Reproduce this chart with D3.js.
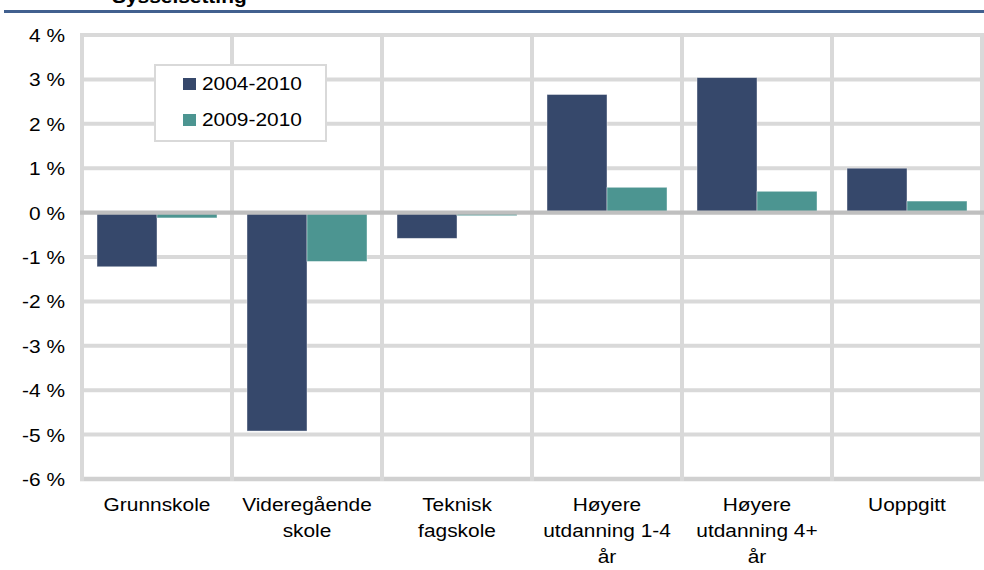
<!DOCTYPE html>
<html>
<head>
<meta charset="utf-8">
<script src="https://cdn.jsdelivr.net/npm/d3@7"></script>
<style>
  body { margin: 0; background: #fff; }
  svg { display: block; font-family: "Liberation Sans", Arial, sans-serif; }
</style>
</head>
<body>
<svg id="chart_svg" width="984" height="570"></svg>
<script>
// chart data
var categories = ["Grunnskole", "Videregående\nskole", "Teknisk\nfagskole", "Høyere\nutdanning 1-4\når", "Høyere\nutdanning 4+\når", "Uoppgitt"];
var series = ["2004-2010", "2009-2010"];
var values_2004_2010 = [-1.22, -4.92, -0.58, 2.66, 3.04, 1.0];
var values_2009_2010 = [-0.12, -1.1, -0.07, 0.57, 0.48, 0.26];
var y_ticks = [4, 3, 2, 1, 0, -1, -2, -3, -4, -5, -6];
var colors = ["#36486b", "#4c9591"];

var svg = d3.select("#chart_svg");
var stretch = 1.13; // text in the picture is a bit wide

// text helper, keeps the horizontal stretch of the picture
function addText(parent, x, y, str, anchor, size, weight) {
    parent.append("g")
        .attr("transform", `translate(${x},${y}) scale(${stretch},1)`)
        .append("text")
        .attr("text-anchor", anchor)
        .style("font-size", size + "px")
        .style("font-weight", weight || "normal")
        .attr("fill", "#000")
        .text(str);
}

// title is cut off at the top of the picture, only its lower edge shows
addText(svg, 112, 3, "Sysselsetting", "start", 18.5, "bold");
svg.append("rect")
    .attr("x", 4).attr("y", 10)
    .attr("width", 980).attr("height", 3)
    .attr("fill", "#41608f");

// scales
var xScale = d3.scaleBand()
    .domain(categories)
    .range([82, 982])
    .padding(0);

var xInner = d3.scaleBand()
    .domain(series)
    .range([0, xScale.bandwidth()])
    .paddingInner(0)
    .paddingOuter(0.25);

var yScale = d3.scaleLinear()
    .domain([-6, 4])
    .range([479, 35]);

// grid
var grid = svg.append("g");
grid.selectAll(".hgrid")
    .data(y_ticks.filter(d => d != 0))
    .join("line")
    .attr("x1", 80).attr("x2", 984)
    .attr("y1", d => yScale(d)).attr("y2", d => yScale(d))
    .attr("stroke", d => d == -6 ? "#d0d0d0" : "#d9d9d9")
    .attr("stroke-width", d => d == -6 ? 4.5 : 4);

var bounds = categories.map(c => xScale(c)).concat([xScale.range()[1]]);
grid.selectAll(".vgrid")
    .data(bounds)
    .join("line")
    .attr("x1", d => d).attr("x2", d => d)
    .attr("y1", yScale(4) - 2).attr("y2", yScale(-6) + 2)
    .attr("stroke", "#d9d9d9")
    .attr("stroke-width", 4);

// y tick labels
y_ticks.forEach(function (t) {
    addText(svg, 65, yScale(t) + 7, t + " %", "end", 18.5);
});

// bars
var bar_data = [];
categories.forEach(function (c, i) {
    bar_data.push({ cat: c, s: series[0], v: values_2004_2010[i], col: colors[0] });
    bar_data.push({ cat: c, s: series[1], v: values_2009_2010[i], col: colors[1] });
});

svg.append("g")
    .selectAll("rect")
    .data(bar_data)
    .join("rect")
    .attr("x", d => xScale(d.cat) + xInner(d.s))
    .attr("width", xInner.bandwidth())
    .attr("y", d => yScale(Math.max(0, d.v)))
    .attr("height", d => Math.abs(yScale(d.v) - yScale(0)))
    .attr("fill", d => d.col)
    .attr("stroke", "#fff")
    .attr("stroke-opacity", 0.5)
    .attr("stroke-width", 0.8);

// zero line on top of bars
svg.append("line")
    .attr("x1", 80).attr("x2", 984)
    .attr("y1", yScale(0)).attr("y2", yScale(0))
    .attr("stroke", "#bfbfbf")
    .attr("stroke-width", 4.3);

// category labels
categories.forEach(function (c) {
    var cx = xScale(c) + xScale.bandwidth() / 2;
    c.split("\n").forEach(function (line, k) {
        addText(svg, cx, 511 + k * 26, line, "middle", 18.5);
    });
});

// legend
var legend = svg.append("g");
legend.append("rect")
    .attr("x", 155).attr("y", 65)
    .attr("width", 171).attr("height", 76)
    .attr("fill", "#fff")
    .attr("stroke", "#d9d9d9")
    .attr("stroke-width", 2);

series.forEach(function (s, i) {
    legend.append("rect")
        .attr("x", 183).attr("y", 78 + i * 36)
        .attr("width", 13).attr("height", 12)
        .attr("fill", colors[i]);
    addText(legend, 202, 90 + i * 36, s, "start", 18.5);
});
</script>
</body>
</html>
